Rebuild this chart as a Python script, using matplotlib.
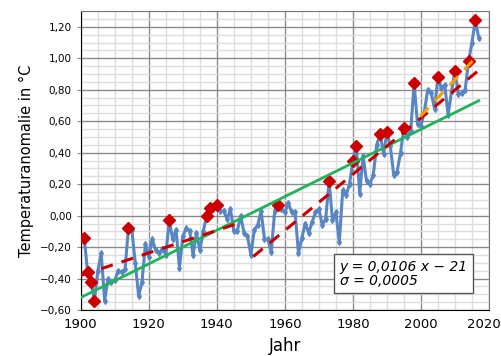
import numpy as np
import matplotlib
matplotlib.use("Agg")
import matplotlib.pyplot as plt
from matplotlib.ticker import MultipleLocator, FuncFormatter

years = list(range(1900, 2018))
anomaly = [
    -0.15, -0.14, -0.36, -0.42, -0.54, -0.35, -0.24, -0.54, -0.40, -0.42,
    -0.41, -0.35, -0.36, -0.34, -0.08, -0.09, -0.30, -0.51, -0.42, -0.18,
    -0.26, -0.15, -0.22, -0.24, -0.21, -0.25, -0.03, -0.15, -0.09, -0.33,
    -0.13, -0.08, -0.10, -0.25, -0.11, -0.22, -0.10, 0.00, 0.05, 0.04,
    0.07, 0.03, 0.03, -0.02, 0.04, -0.10, -0.10, 0.00, -0.11, -0.13,
    -0.25, -0.09, -0.06, 0.03, -0.15, -0.15, -0.23, 0.03, 0.07, 0.04,
    0.02, 0.08, 0.02, 0.02, -0.24, -0.14, -0.05, -0.11, -0.04, 0.02,
    0.04, -0.06, -0.02, 0.22, -0.03, 0.02, -0.17, 0.16, 0.13, 0.20,
    0.35, 0.44, 0.14, 0.38, 0.22, 0.20, 0.26, 0.45, 0.52, 0.39,
    0.53, 0.44, 0.26, 0.28, 0.40, 0.56, 0.50, 0.54, 0.84, 0.58,
    0.57, 0.66, 0.80, 0.78, 0.68, 0.88, 0.81, 0.83, 0.64, 0.79,
    0.92, 0.77, 0.78, 0.80, 0.98, 1.10, 1.24, 1.13,
]

record_years = [1901, 1902, 1903, 1904, 1914, 1926, 1937, 1938, 1940, 1958,
                1973, 1980, 1981, 1988, 1990, 1995, 1998, 2005, 2010, 2014, 2016]

# trend lines (endpoints)
lin_x = [1900, 2017]
lin_y = [-0.52, 0.73]
seg1_x = [1900, 1947.5]
seg1_y = [-0.38, -0.04]
seg2_x = [1950.7, 2016.8]
seg2_y = [-0.26, 0.92]
seg3_x = [1999.8, 2016.8]
seg3_y = [0.63, 1.02]

x = np.array(years)
y = np.array(anomaly)
rec_y = [anomaly[years.index(r)] for r in record_years]

fig = plt.figure(figsize=(5.02, 3.56), dpi=100)
ax = fig.add_axes([0.161, 0.129, 0.813, 0.840])

ax.plot(x, y, color="#5886c4", lw=2.2, marker="d", ms=3, zorder=3)
ax.plot(record_years, rec_y, ls="none", marker="D", ms=6.5, color="#cc0000", zorder=4)
ax.plot(lin_x, lin_y, color="#1fb35a", lw=2, zorder=5)
ax.plot(seg1_x, seg1_y, color="#cc0000", lw=2.2, ls=(0, (4, 3)), zorder=6)
ax.plot(seg2_x, seg2_y, color="#cc0000", lw=2.2, ls=(0, (4, 3)), zorder=6)
ax.plot(seg3_x, seg3_y, color="#f5a000", lw=2.2, ls=(0, (4, 3)), zorder=6)

ax.set_xlim(1900, 2020)
ax.set_ylim(-0.6, 1.3)
ax.xaxis.set_major_locator(MultipleLocator(20))
ax.xaxis.set_minor_locator(MultipleLocator(5))
ax.yaxis.set_major_locator(MultipleLocator(0.2))
ax.yaxis.set_minor_locator(MultipleLocator(0.05))
# last year label is drawn separately so it stays inside the figure
ax.xaxis.set_major_formatter(FuncFormatter(lambda v, p: "" if v >= 2020 else f"{v:.0f}"))
ax.yaxis.set_major_formatter(FuncFormatter(lambda v, p: f"{v:.2f}".replace(".", ",").replace("-", "\u2212")))

ax.grid(which="major", color="#8a8a8a", lw=1)
ax.grid(which="minor", color="#dddddd", lw=1)
ax.set_axisbelow(True)
ax.tick_params(axis="x", which="major", labelsize=9.5, length=0, pad=6)
ax.tick_params(axis="y", which="major", labelsize=7.5, length=3, color="#888888")
ax.tick_params(which="minor", length=0)

ax.annotate("2020", xy=(2020, 0), xycoords=("data", "axes fraction"),
            xytext=(-4, -6), textcoords="offset points", ha="center", va="top",
            fontsize=9.5)

for s in ["top", "right"]:
    ax.spines[s].set_color("#777777")
ax.spines["left"].set_color("black")
ax.spines["bottom"].set_color("black")

ax.set_xlabel("Jahr", fontsize=12)
ax.set_ylabel("Temperaturanomalie in °C", fontsize=10.5)

ax.text(0.948, 0.075, "y = 0,0106 x \u2212 21\n\u03c3 = 0,0005", transform=ax.transAxes,
        ha="right", va="bottom", multialignment="left", fontsize=10, style="italic",
        linespacing=1.0,
        bbox=dict(boxstyle="square,pad=0.4", fc="white", ec="#555555", lw=1), zorder=10)

fig.savefig("out.png", dpi=100)
